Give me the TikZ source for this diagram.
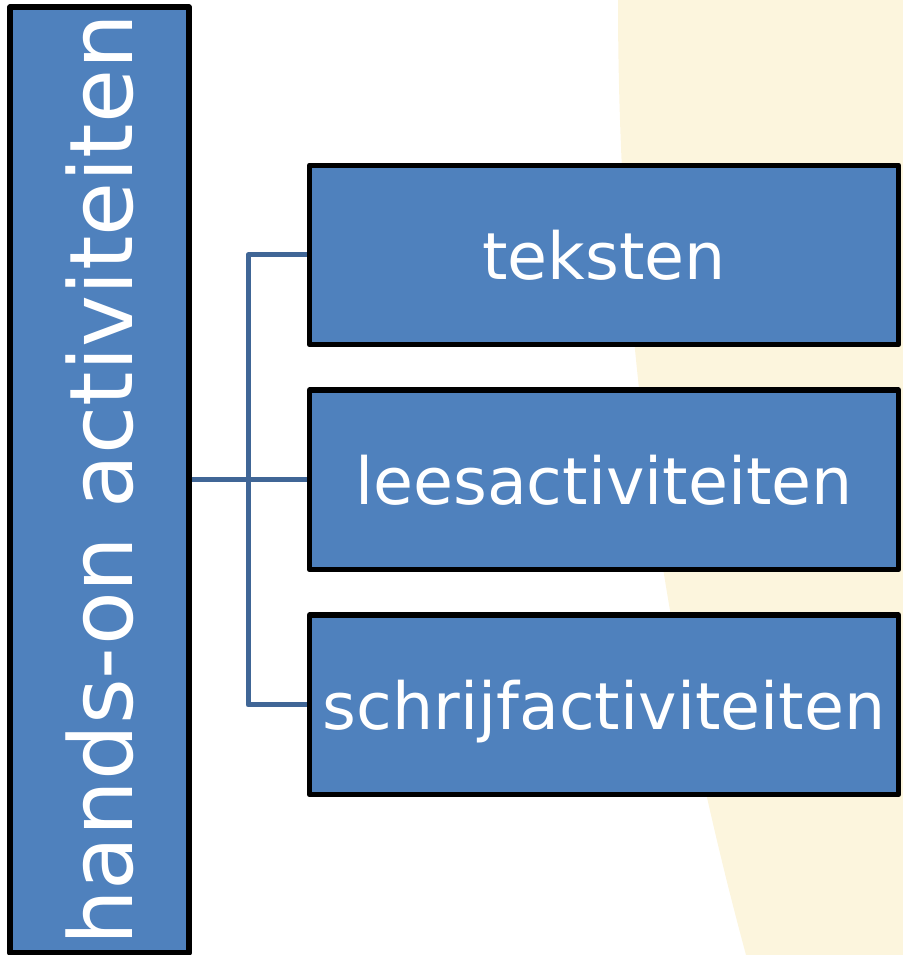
\documentclass[tikz,border=0pt]{standalone}
\usepackage{fontspec}
\setmainfont{DejaVu Sans}
\usetikzlibrary{positioning}
\definecolor{blokblauw}{RGB}{79,129,189}
\definecolor{lijnblauw}{RGB}{64,102,150}
\definecolor{room}{RGB}{252,245,221}
\begin{document}
\begin{tikzpicture}[x=0.02cm, y=-0.02cm, line join=round,
	blok/.style={draw=black, line width=0.11cm, fill=blokblauw, text=white, inner sep=0pt,
		minimum width=11.78cm, minimum height=3.59cm,
		font=\fontsize{37}{44}\selectfont, text height=0.98cm, text depth=0pt},
	tak/.style={draw=lijnblauw, line width=0.1cm}]
	\useasboundingbox (0,0) rectangle (902,955);
	% achtergrond
	\fill[room] (618,0) .. controls (618,318) and (660,637) .. (746,955) -- (910,955) -- (910,0) -- cycle;
	\node[blok, rotate=90, minimum width=18.92cm, minimum height=3.58cm,
		font=\fontsize{50}{60}\selectfont, text height=1.33cm] (hoofd) at (99.5,480) {hands-on activiteiten};
	\node[blok] (tekst) at (604,255) {teksten};
	\node[blok, below=0.8cm of tekst] (lees) {leesactiviteiten};
	\node[blok, below=0.8cm of lees] (schrijf) {schrijfactiviteiten};
	\coordinate (splits) at (248,480);
	\draw[tak] (hoofd.south |- lees) -- (lees.west);
	\draw[tak] (tekst.west) -| (splits) |- (schrijf.west);
\end{tikzpicture}
\end{document}
